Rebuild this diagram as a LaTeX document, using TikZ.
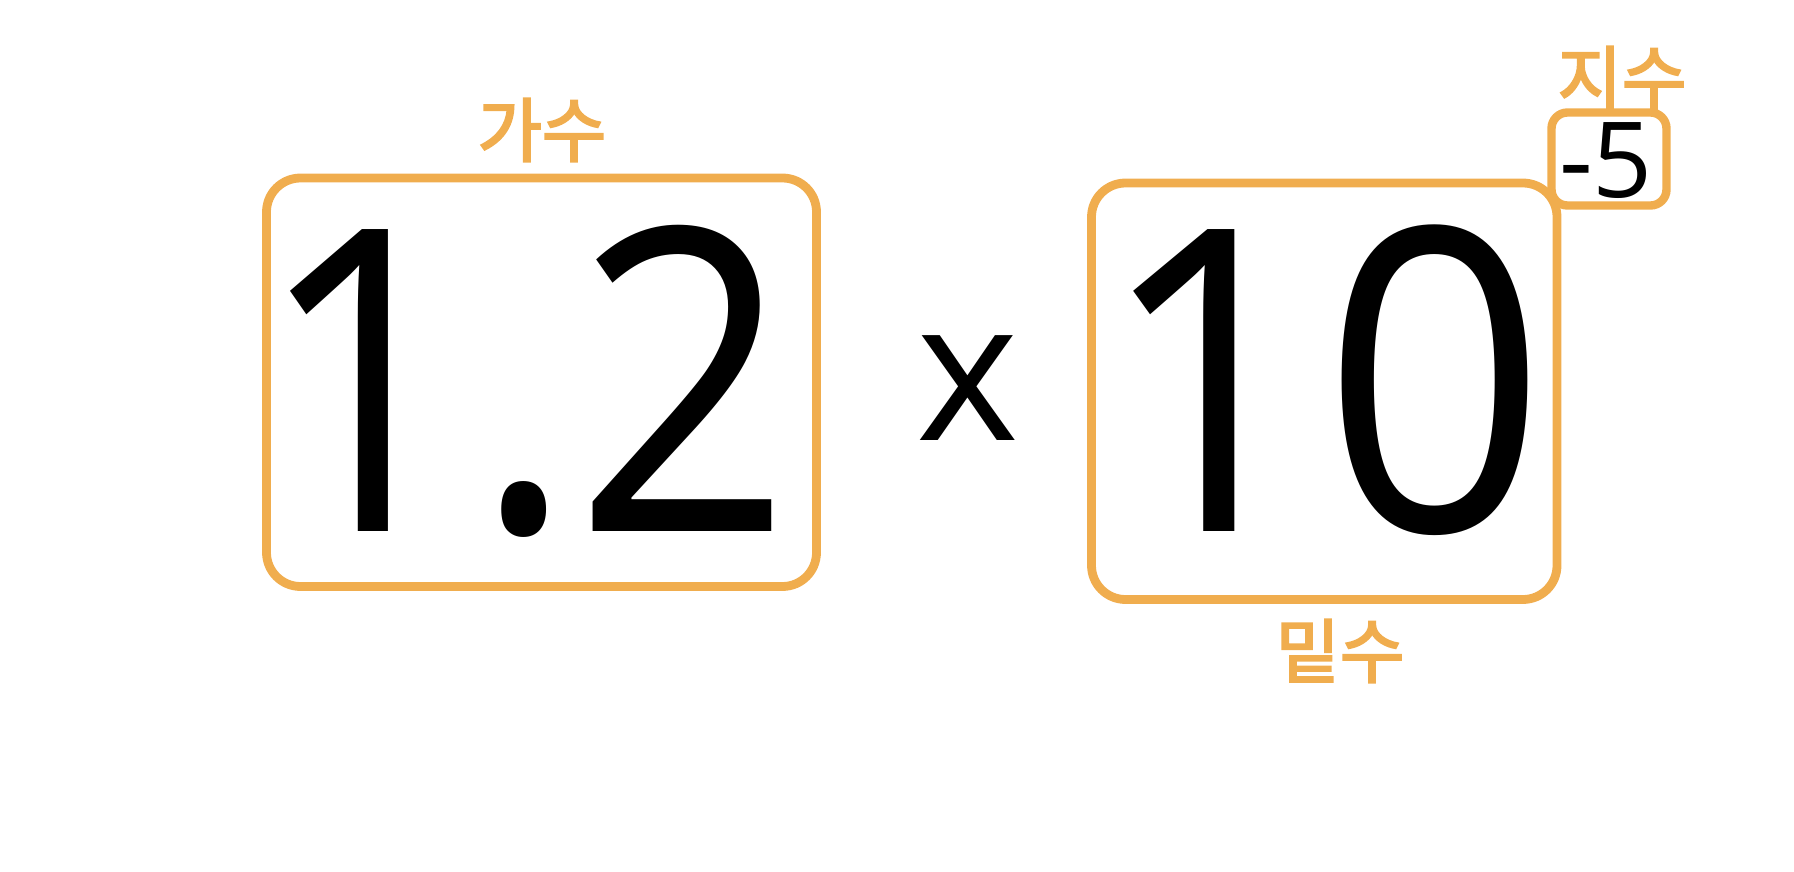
\documentclass[tikz,border=0pt]{standalone}
\usepackage{fontspec}
\setmainfont{Open Sans}
\newfontfamily\krfont[FakeBold=3]{Noto Sans CJK KR}
\definecolor{boxorange}{HTML}{F0AD4E}
\begin{document}
\begin{tikzpicture}[x=0.5pt,y=-0.5pt,
  frame/.style={draw=boxorange,line width=4.4pt,rounded corners=17pt,rectangle,inner sep=0pt},
  smallframe/.style={draw=boxorange,fill=white,line width=4.2pt,rounded corners=8pt,rectangle,inner sep=0pt},
  big/.style={inner sep=0pt,anchor=base,text depth=0pt,font=\fontsize{211.5pt}{211.5pt}\selectfont},
  lbl/.style={inner sep=0pt,text=boxorange,font=\krfont\fontsize{35pt}{35pt}\selectfont}]
\useasboundingbox (0,0) rectangle (1794,872);
\node[frame,minimum width=275pt,minimum height=204.25pt] (mbox) at (541.5,382.25) {};
\node[frame,minimum width=232.75pt,minimum height=208.25pt] (bbox) at (1324.25,391.25) {};
\node[smallframe,minimum width=57.5pt,minimum height=46.5pt] (ebox) at (1609,159) {};
\node[big] (mant) at (524,531) {\scalebox{0.9}[1]{1.2}};
\node[big] (base) at (1322,531) {\scalebox{0.93}[1]{10}};
\node[inner sep=0pt,anchor=base,font=\fontsize{98pt}{98pt}\selectfont] (times) at (968,440) {x};
\node[inner sep=0pt,anchor=base,font=\fontsize{52.5pt}{52.5pt}\selectfont] (expo) at (1606,198) {-5};
\node[lbl] (lm) at (542,130) {가수};
\node[lbl] (le) at (1622,78) {지수};
\node[lbl] (lb) at (1340,651) {밑수};
\end{tikzpicture}
\end{document}
